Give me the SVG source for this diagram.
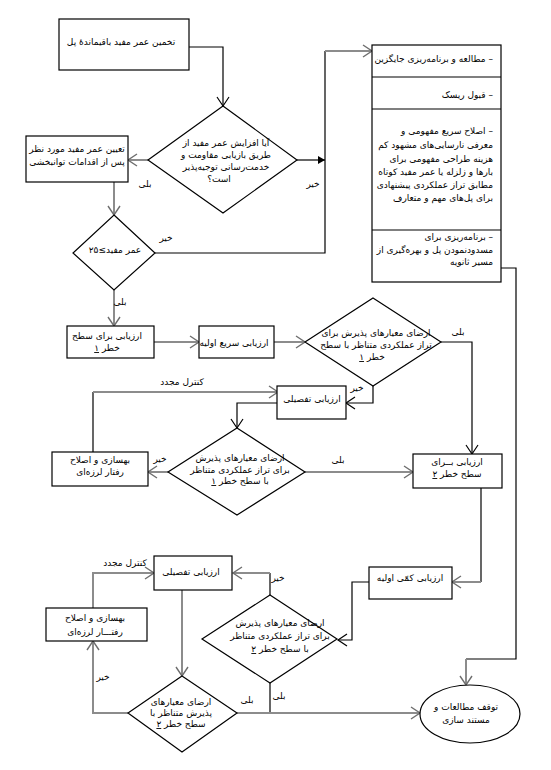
<svg xmlns="http://www.w3.org/2000/svg" width="551" height="770" viewBox="0 0 551 770">
<style>
.box{fill:#fff;stroke:#000;stroke-width:1.2}
.t{font-family:"DejaVu Sans",sans-serif;font-size:9px;direction:rtl;text-anchor:middle;fill:#000}
.r{text-anchor:start}
.k{fill:none;stroke:#000;stroke-width:1.2}
.g{fill:none;stroke:#8c8c8c;stroke-width:2}
.u{text-decoration:underline}
</style>
<defs>
<marker id="ak" markerUnits="userSpaceOnUse" markerWidth="12" markerHeight="14" refX="10" refY="7" orient="auto"><path d="M1,1 L10,7 L1,13" fill="none" stroke="#000" stroke-width="1.2"/></marker>
<marker id="ag" markerUnits="userSpaceOnUse" markerWidth="12" markerHeight="14" refX="10" refY="7" orient="auto"><path d="M1,1 L10,7 L1,13" fill="none" stroke="#6e6e6e" stroke-width="1.4"/></marker>
<marker id="af" markerUnits="userSpaceOnUse" markerWidth="8" markerHeight="8" refX="7" refY="4" orient="auto"><path d="M0,0 L7,4 L0,8 Z" fill="#000"/></marker>
</defs>
<rect width="551" height="770" fill="#fff"/>

<g id="connectors">
<path class="k" d="M189,47 H223 V106" marker-end="url(#ak)"/>
<path class="g" d="M148,160 H128" marker-end="url(#ag)"/>
<path class="k" d="M297,160 H325" marker-end="url(#af)"/>
<path class="k" d="M155,253 H325 V51"/>
<path class="g" d="M325,51 H372" marker-end="url(#ag)"/>
<path class="g" d="M114,182 V215" marker-end="url(#ag)"/>
<path class="g" d="M114,290 V326" marker-end="url(#ag)"/>
<path class="g" d="M154,342 H199" marker-end="url(#ag)"/>
<path class="g" d="M274,342 H305" marker-end="url(#ag)"/>
<path class="k" d="M441,342 H472 V454" marker-end="url(#ak)"/>
<path class="k" d="M373,386 V403 H346" marker-end="url(#ak)"/>
<path class="k" d="M278,403 H237 V428" marker-end="url(#ak)"/>
<path class="k" d="M93,452 V392"/>
<path class="g" d="M93,392 H278" marker-end="url(#ag)"/>
<path class="g" d="M168,472 H148" marker-end="url(#ag)"/>
<path class="g" d="M305,472 H413" marker-end="url(#ag)"/>
<path class="k" d="M481,488 V582"/>
<path class="g" d="M481,582 H452" marker-end="url(#ag)"/>
<path class="k" d="M369,582 H352 V640 H338" marker-end="url(#ak)"/>
<path class="k" d="M270,595 V573"/>
<path class="g" d="M270,573 H233" marker-end="url(#ag)"/>
<path class="g" d="M93,608 V573 H154" marker-end="url(#ag)"/>
<path class="g" d="M182,590 V676" marker-end="url(#ag)"/>
<path class="g" d="M128,713 H93 V641" marker-end="url(#ag)"/>
<path class="k" d="M270,683 V713"/>
<path class="g" d="M237,713 H420" marker-end="url(#ag)"/>
<path class="k" d="M501,268 H516 V659 H466"/>
<path class="g" d="M466,659 V685" marker-end="url(#ag)"/>
</g>

<g id="labels">
<text class="t" x="145" y="187">بلی</text>
<text class="t" x="313" y="187">خیر</text>
<text class="t" x="166" y="241">خیر</text>
<text class="t" x="120" y="305">بلی</text>
<text class="t" x="458" y="335">بلی</text>
<text class="t" x="357" y="391">خیر</text>
<text class="t" x="182" y="385">کنترل مجدد</text>
<text class="t" x="160" y="462">خیر</text>
<text class="t" x="338" y="463">بلی</text>
<text class="t" x="278" y="581">خیر</text>
<text class="t" x="125" y="566">کنترل مجدد</text>
<text class="t" x="103" y="680">خیر</text>
<text class="t" x="247" y="703">بلی</text>
<text class="t" x="279" y="699">بلی</text>
</g>

<g id="n1">
<rect class="box" x="59" y="19" width="130" height="51"/>
<text class="t" x="121" y="45">تخمین عمر مفید باقیماندهٔ پل</text>
</g>

<g id="n2">
<path class="box" d="M223,106 L297,160 L223,213 L148,160 Z"/>
<text class="t" x="226" y="146">آیا افزایش عمر مفید از</text>
<text class="t" x="226" y="158">طریق بازیابی مقاومت و</text>
<text class="t" x="226" y="170">خدمت‌رسانی توجیه‌پذیر</text>
<text class="t" x="219" y="182">است؟</text>
</g>

<g id="n3">
<rect class="box" x="26" y="136" width="102" height="46"/>
<text class="t" x="77" y="152">تعیین عمر مفید مورد نظر</text>
<text class="t" x="77" y="165">پس از اقدامات توانبخشی</text>
</g>

<g id="n4">
<rect class="box" x="372" y="45" width="129" height="237"/>
<path class="k" d="M372,77 H501 M372,109 H501 M372,230 H501"/>
<text class="t r" x="493" y="62">– مطالعه و برنامه‌ریزی جایگزین</text>
<text class="t r" x="493" y="98">– قبول ریسک</text>
<text class="t r" x="493" y="134">– اصلاح سریع مفهومی و</text>
<text class="t r" x="493" y="148">معرفی نارسایی‌های مشهود کم</text>
<text class="t r" x="493" y="162">هزینه طراحی مفهومی برای</text>
<text class="t r" x="493" y="175">بارها و زلزله یا عمر مفید کوتاه</text>
<text class="t r" x="493" y="188">مطابق تراز عملکردی پیشنهادی</text>
<text class="t r" x="493" y="201">برای پل‌های مهم و متعارف</text>
<text class="t r" x="493" y="240">– برنامه‌ریزی برای</text>
<text class="t r" x="493" y="253">مسدودنمودن پل و بهره‌گیری از</text>
<text class="t r" x="493" y="265">مسیر ثانویه</text>
</g>

<g id="n5">
<path class="box" d="M114,215 L155,253 L114,290 L73,253 Z"/>
<text class="t" x="115" y="253">عمر مفید≥۲۵</text>
</g>

<g id="n6">
<rect class="box" x="67" y="326" width="87" height="32"/>
<text class="t" x="107" y="339">ارزیابی برای سطح</text>
<text class="t" x="107" y="351">خطر <tspan class="u">۱</tspan></text>
</g>

<g id="n7">
<rect class="box" x="199" y="326" width="75" height="32"/>
<text class="t" x="234" y="346">ارزیابی سریع اولیه</text>
</g>

<g id="n8">
<path class="box" d="M373,298 L441,342 L373,386 L305,342 Z"/>
<text class="t" x="376" y="336">ارضای معیارهای پذیرش برای</text>
<text class="t" x="376" y="348">تراز عملکردی متناظر با سطح</text>
<text class="t" x="372" y="360">خطر <tspan class="u">۱</tspan></text>
</g>

<g id="n9">
<rect class="box" x="277" y="386" width="69" height="33"/>
<text class="t" x="312" y="402">ارزیابی تفصیلی</text>
</g>

<g id="n10">
<rect class="box" x="52" y="452" width="96" height="34"/>
<text class="t" x="100" y="463">بهسازی و اصلاح</text>
<text class="t" x="100" y="475">رفتار لرزه‌ای</text>
</g>

<g id="n11">
<path class="box" d="M237,428 L305,472 L237,515 L168,472 Z"/>
<text class="t" x="240" y="461">ارضای معیارهای پذیرش</text>
<text class="t" x="240" y="473">برای تراز عملکردی متناظر</text>
<text class="t" x="240" y="484">با سطح خطر <tspan class="u">۱</tspan></text>
</g>

<g id="n12">
<rect class="box" x="413" y="454" width="89" height="34"/>
<text class="t" x="457" y="465">ارزیابی بــرای</text>
<text class="t" x="457" y="477">سطح خطر <tspan class="u">۲</tspan></text>
</g>

<g id="n13">
<rect class="box" x="369" y="567" width="83" height="32"/>
<text class="t" x="410" y="581">ارزیابی کمّی اولیه</text>
</g>

<g id="n14">
<path class="box" d="M270,595 L337,639 L270,683 L202,639 Z"/>
<text class="t" x="280" y="626">ارضای معیارهای پذیرش</text>
<text class="t" x="280" y="639">برای تراز عملکردی متناظر</text>
<text class="t" x="280" y="652">با سطح خطر <tspan class="u">۲</tspan></text>
</g>

<g id="n15">
<rect class="box" x="154" y="556" width="78" height="34"/>
<text class="t" x="191" y="575">ارزیابی تفصیلی</text>
</g>

<g id="n16">
<rect class="box" x="46" y="608" width="101" height="33"/>
<text class="t" x="95" y="621">بهسازی و اصلاح</text>
<text class="t" x="95" y="635">رفتـــار لرزه‌ای</text>
</g>

<g id="n17">
<path class="box" d="M182,676 L237,713 L182,752 L128,713 Z"/>
<text class="t" x="181" y="705">ارضای معیارهای</text>
<text class="t" x="181" y="716">پذیرش متناظر با</text>
<text class="t" x="181" y="727">سطح خطر <tspan class="u">۲</tspan></text>
</g>

<g id="n18">
<ellipse class="box" cx="470" cy="714" rx="50" ry="29"/>
<text class="t" x="466" y="710">توقف مطالعات و</text>
<text class="t" x="466" y="723">مستند سازی</text>
</g>
</svg>
